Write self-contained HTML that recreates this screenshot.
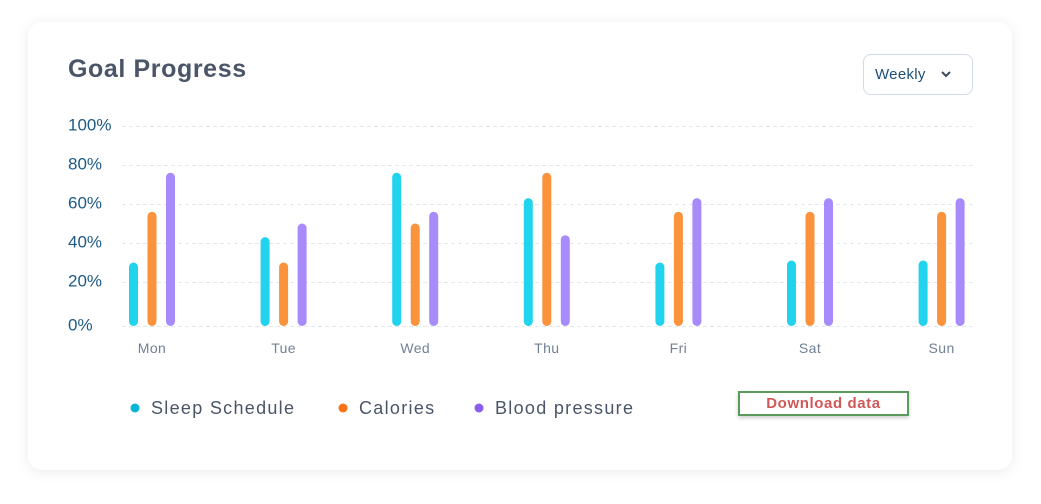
<!DOCTYPE html>
<html><head><meta charset="utf-8"><style>
body{margin:0;width:1041px;height:504px;background:#fff;font-family:"Liberation Sans",sans-serif;overflow:hidden;position:relative}
.card{position:absolute;left:28px;top:22px;width:984px;height:448px;background:#fff;border-radius:14px;box-shadow:0 2px 14px rgba(0,0,0,0.08)}
.title{position:absolute;left:68px;top:55px;font-size:25px;font-weight:bold;color:#4a5568;letter-spacing:0.6px}
.dd{position:absolute;left:863px;top:54px;width:110px;height:41px;border:1.5px solid #d3dbe6;border-radius:8px;box-sizing:border-box;font-size:15px;color:#1d4f7a}
.btn{position:absolute;left:738px;top:391px;width:171px;height:25px;border:2px solid #5a9a5a;box-sizing:border-box;text-align:center;font-weight:bold;font-size:15px;color:#d05858;line-height:21px;box-shadow:0 2px 4px rgba(0,0,0,0.2);background:#fff;letter-spacing:0.6px}
</style></head><body>
<div class="card"></div>
<div class="title">Goal Progress</div>
<div class="dd"><span style="position:absolute;left:11px;top:11px;letter-spacing:0.3px">Weekly</span>
<svg style="position:absolute;left:77px;top:16px" width="10" height="7"><path d="M1 1 L5 5 L9 1" stroke="#3b4a5c" stroke-width="2" fill="none"/></svg></div>
<svg id="chart" width="1041" height="504" style="position:absolute;left:0;top:0"></svg>
<div class="btn">Download data</div>
<script>
const days=["Mon","Tue","Wed","Thu","Fri","Sat","Sun"];
const sleep=[30,43,76,63,30,31,31];
const calories=[56,30,50,76,56,56,56];
const bloodPressure=[76,50,56,44,63,63,63];
const ticks=[0,20,40,60,80,100];
const seriesNames=["Sleep Schedule","Calories","Blood pressure"];
const colors=["#22d3ee","#fb923c","#a78bfa"];
const legendColors=["#06b6d4","#f97316","#8b5cf6"];
const NS="http://www.w3.org/2000/svg";
const svg=document.getElementById('chart');
function y(v){return 321-1.95*v;}
function tickY(t){return t===0?326.5:y(t)+0.5;}
function x(i){return 152+i*131.6;}
function mk(tag,attrs){const e=document.createElementNS(NS,tag);for(const k in attrs)e.setAttribute(k,attrs[k]);svg.appendChild(e);return e;}
ticks.forEach(t=>{
  const l=mk('line',{x1:122,x2:975,y1:tickY(t),y2:tickY(t),stroke:'#e2e8f0','stroke-dasharray':'4 3'});
  
  
  const tx=mk('text',{x:68,y:tickY(t)+4,'font-size':17,fill:'#1d5a86','font-family':'Liberation Sans, sans-serif'});
  tx.textContent=t+'%';
  
  
});
const series=[sleep,calories,bloodPressure];
days.forEach((d,i)=>{
  series.forEach((s,j)=>{
    const cx=x(i)+(j-1)*18.5;
    const top=y(s[i]);
    const r=mk('rect',{x:cx-4.5,y:top,width:9,height:326-top,rx:4.5,fill:colors[j]});
    
    
  });
  const t=mk('text',{x:x(i),y:353,'text-anchor':'middle','font-size':14,fill:'#718096','font-family':'Liberation Sans, sans-serif','letter-spacing':'0.4'});
  t.textContent=d;
  
  
});
const lx=[135,343,479];
seriesNames.forEach((n,j)=>{
  const c=mk('circle',{cx:lx[j],cy:408,r:4.5,fill:legendColors[j]});
  
  
  const t=mk('text',{x:lx[j]+16,y:414,'font-size':18,fill:'#4a5568','font-family':'Liberation Sans, sans-serif','letter-spacing':'1.3'});
  t.textContent=n;
  
  
});
</script>
</body></html>
